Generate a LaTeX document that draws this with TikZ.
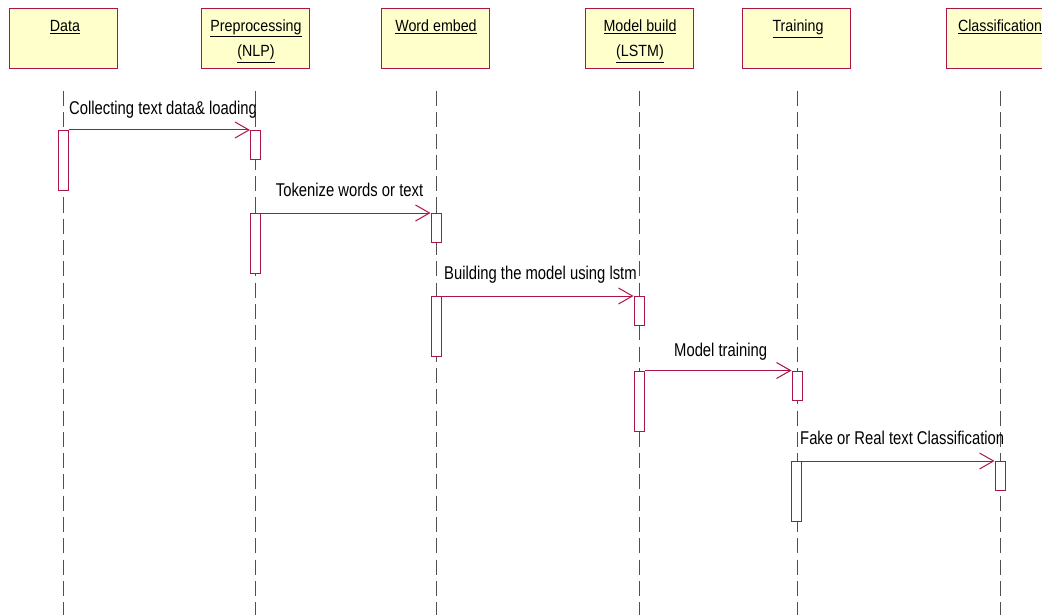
\documentclass[tikz,border=0pt]{standalone}
\usepackage{fontspec}
\usetikzlibrary{arrows.meta}
\newfontfamily\hdrfont{Liberation Sans}[FakeStretch=0.88]
\newfontfamily\msgfont{Liberation Sans}[FakeStretch=0.8]
\definecolor{objfill}{HTML}{FFFFCC}
\definecolor{ruby}{RGB}{170,22,70}
\definecolor{lifegray}{RGB}{80,80,80}
\tikzset{
  objbox/.style={draw=ruby, line width=1.2pt, fill=objfill, minimum width=108pt,
    minimum height=60pt, inner sep=0pt, anchor=north west},
  objtext/.style={font=\hdrfont\fontsize{16.2}{18}\selectfont, anchor=base, inner sep=0pt},
  lifeline/.style={draw=lifegray, line width=1pt, dash pattern=on 15pt off 6.3pt},
  actbox/.style={draw=ruby, line width=1pt, fill=white, minimum width=10pt,
    inner sep=0pt, anchor=north},
  longact/.style={actbox, minimum height=60pt},
  shortact/.style={actbox, minimum height=29pt},
  msg/.style={draw=ruby, line width=1pt, -{Straight Barb[length=14pt,width=16pt,line width=1pt]}},
  msgtext/.style={font=\msgfont\fontsize{18.5}{20}\selectfont, anchor=base west, inner sep=0pt}
}
\begin{document}
\begin{tikzpicture}[x=1pt,y=-1pt]
\useasboundingbox (0,0) rectangle (1042,615);
\clip (0,0) rectangle (1042,615);

% object headers
\node[objbox] (hData)  at (9,8)   {};
\node[objbox] (hPre)   at (201,8) {};
\node[objbox] (hWord)  at (381,8) {};
\node[objbox] (hModel) at (585,8) {};
\node[objbox] (hTrain) at (742,8) {};
\node[objbox] (hClass) at (946,8) {};

\node[objtext] (tData)  at (65,32)    {\underline{Data}};
\node[objtext] (tPre1)  at (256,31.7) {\underline{Preprocessing}};
\node[objtext] (tPre2)  at (256,57)   {\underline{(NLP)}};
\node[objtext] (tWord)  at (436,32)   {\underline{Word embed}};
\node[objtext] (tMod1)  at (640,31.7) {\underline{Model build}};
\node[objtext] (tMod2)  at (640,57)   {\underline{(LSTM)}};
\node[objtext] (tTrain) at (798,32)   {\underline{Training}};
\node[objtext] (tClass) at (1000,32)  {\underline{Classification}};

% lifelines
\coordinate (lData)  at (63,91);   \coordinate (eData)  at (63,615);
\coordinate (lPre)   at (255.5,91);\coordinate (ePre)   at (255.5,615);
\coordinate (lWord)  at (436,91);  \coordinate (eWord)  at (436,615);
\coordinate (lModel) at (639,91);  \coordinate (eModel) at (639,615);
\coordinate (lTrain) at (797,91);  \coordinate (eTrain) at (797,615);
\coordinate (lClass) at (1000.5,91);\coordinate (eClass) at (1000.5,615);
\draw[lifeline] (lData) -- (eData);
\draw[lifeline] (lPre) -- (ePre);
\draw[lifeline] (lWord) -- (eWord);
\draw[lifeline] (lModel) -- (eModel);
\draw[lifeline] (lTrain) -- (eTrain);
\draw[lifeline] (lClass) -- (eClass);

% activation bars
\node[longact]  (aData)   at (63,130)  {};
\node[shortact] (aPre1)   at (255.5,130) {};
\node[longact]  (aPre2)   at (255.5,213) {};
\node[shortact] (aWord1)  at (436,213) {};
\node[longact]  (aWord2)  at (436,296) {};
\node[shortact] (aModel1) at (639,296) {};
\node[longact]  (aModel2) at (639,370.5) {};
\node[shortact] (aTrain1) at (797,370.5) {};
\node[longact]  (aTrain2) at (796,461) {};
\node[shortact] (aClass1) at (1000,461) {};

% messages
\draw[msg] (aData.north east) -- (aPre1.north west);
\draw[msg] (aPre2.north east) -- (aWord1.north west);
\draw[msg] (aWord2.north east) -- (aModel1.north west);
\draw[msg] (aModel2.north east) -- (aTrain1.north west);
\draw[msg] (aTrain2.north east) -- (aClass1.north west);

\node[msgtext] (m1) at (69,114.3)  {Collecting text data\& loading};
\node[msgtext] (m2) at (275.7,196.7) {Tokenize words or text};
\node[msgtext] (m3) at (444,279.3) {Building the model using lstm};
\node[msgtext] (m4) at (674,356.3) {Model training};
\node[msgtext] (m5) at (800,444.3) {Fake or Real text Classification};
\end{tikzpicture}
\end{document}
